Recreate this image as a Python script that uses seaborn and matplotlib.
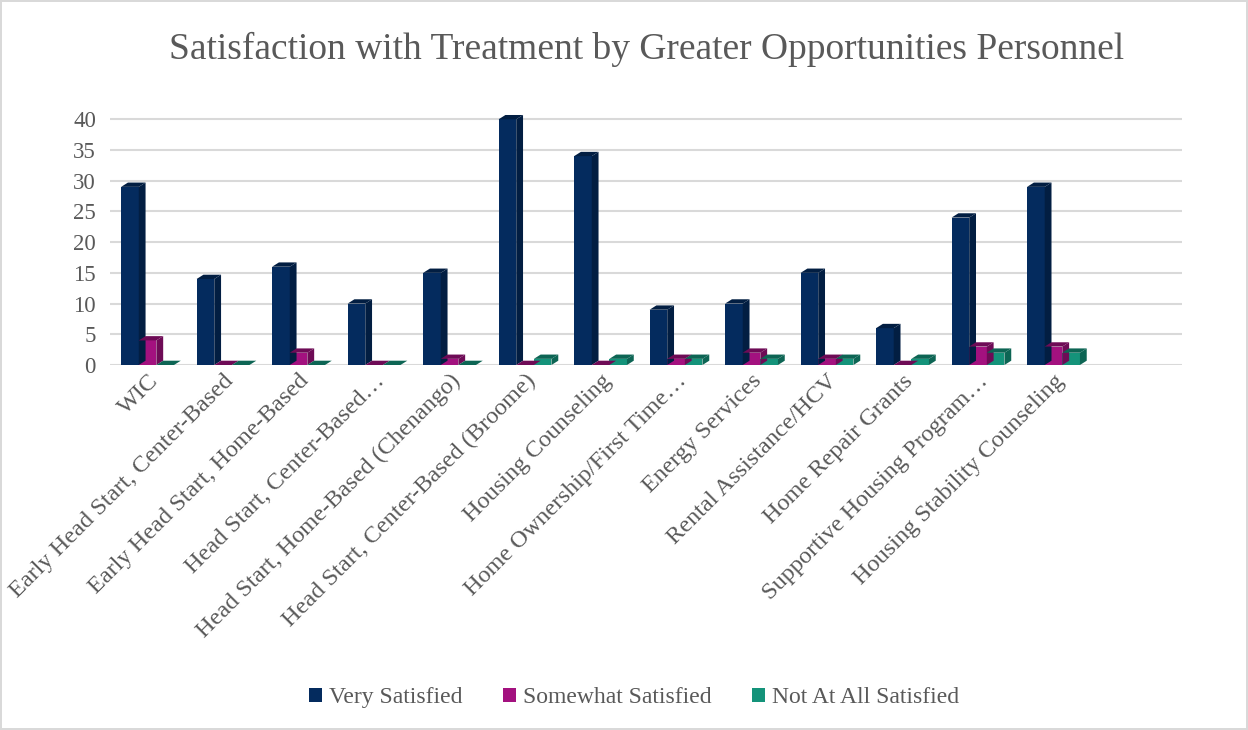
import pandas as pd
import matplotlib.pyplot as plt
import seaborn as sns
from matplotlib.patches import Polygon

# Datos
programas = ['WIC', 'Early Head Start, Center-Based', 'Early Head Start, Home-Based',
             'Head Start, Center-Based…', 'Head Start, Home-Based (Chenango)',
             'Head Start, Center-Based (Broome)', 'Housing Counseling',
             'Home Ownership/First Time…', 'Energy Services', 'Rental Assistance/HCV',
             'Home Repair Grants', 'Supportive Housing Program…', 'Housing Stability Counseling']
muy_satisfecho = [29, 14, 16, 10, 15, 40, 34, 9, 10, 15, 6, 24, 29]
algo_satisfecho = [4, 0, 2, 0, 1, 0, 0, 1, 2, 1, 0, 3, 3]
nada_satisfecho = [0, 0, 0, 0, 0, 1, 1, 1, 1, 1, 1, 2, 2]
series = ['Very Satisfied', 'Somewhat Satisfied', 'Not At All Satisfied']
colores = ['#042B5E', '#A3117F', '#14937A']
lados = ['#021E42', '#6E0B56', '#0D6554']

df = pd.DataFrame({'Programa': programas * 3,
                   'Serie': [s for s in series for _ in programas],
                   'Valor': muy_satisfecho + algo_satisfecho + nada_satisfecho})

sns.set_theme(style="white")
plt.rcParams['font.family'] = ['Liberation Serif', 'DejaVu Serif']

fig = plt.figure(figsize=(12.48, 7.3), dpi=100)
fig.patch.set_edgecolor('#D9D9D9')
fig.patch.set_linewidth(1.5)
ax = fig.add_axes([0.088, 0.5, 0.859, 0.345])

sns.barplot(data=df, x='Programa', y='Valor', hue='Serie', palette=colores,
            width=0.7, saturation=1, linewidth=0, edgecolor='none', ax=ax, legend=True)

# Caras laterales y superiores para simular 3D
dx, dy = 0.09, 0.7
for cont, lado in zip(ax.containers, lados):
    for p in cont.patches:
        x0, w, h = p.get_x(), p.get_width(), p.get_height()
        ax.add_patch(Polygon([(x0 + w, 0), (x0 + w + dx, dy), (x0 + w + dx, h + dy), (x0 + w, h)],
                             closed=True, facecolor=lado, edgecolor='none', zorder=1))
        ax.add_patch(Polygon([(x0, h), (x0 + dx, h + dy), (x0 + w + dx, h + dy), (x0 + w, h)],
                             closed=True, facecolor=lado, edgecolor='none', zorder=1))

ax.set_xlim(-0.5, 13.7)
ax.set_ylim(0, 41)
ax.set_yticks(range(0, 45, 5))
ax.yaxis.grid(True, color='#D9D9D9', linewidth=1.5)
ax.set_axisbelow(True)
for s in ax.spines.values():
    s.set_visible(False)
ax.set_xlabel('')
ax.set_ylabel('')
ax.tick_params(axis='y', labelsize=16.5, labelcolor='#595959', length=0, pad=10)
ax.tick_params(axis='x', labelsize=17.5, labelcolor='#595959', length=0, pad=4)
plt.setp(ax.get_xticklabels(), rotation=45, ha='right', rotation_mode='anchor')

fig.text(0.518, 0.932, 'Satisfaction with Treatment by Greater Opportunities Personnel',
         fontsize=27, color='#595959', ha='center', va='center')

handles, labels = ax.get_legend_handles_labels()
ax.get_legend().remove()
fig.legend(handles, labels, loc='center', bbox_to_anchor=(0.508, 0.044), ncol=3, frameon=False,
           fontsize=17, labelcolor='#595959', handlelength=0.55, handleheight=0.55,
           handletextpad=0.3, columnspacing=1.7)

fig.savefig('out.png', dpi=100)
